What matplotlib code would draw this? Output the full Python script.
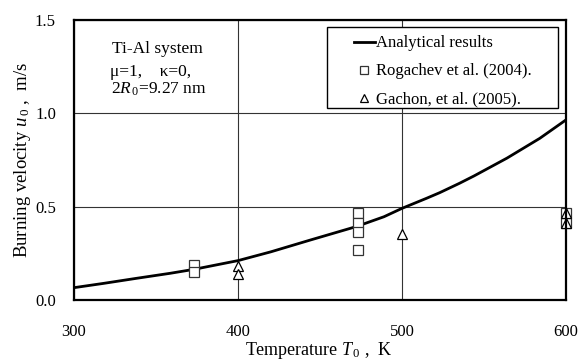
import matplotlib
matplotlib.use('Agg')
import matplotlib.pyplot as plt
from matplotlib.patches import Rectangle

plt.rcParams['font.family'] = ['Liberation Serif', 'DejaVu Serif']
plt.rcParams['mathtext.fontset'] = 'custom'
plt.rcParams['mathtext.rm'] = 'Liberation Serif'
plt.rcParams['mathtext.it'] = 'Liberation Serif:italic'

# Analytical curve
curve_T = [297.6, 318, 338, 358.6, 373, 400, 420, 444, 472, 489, 500, 515, 523, 535, 544, 564, 584, 600.5, 603]
curve_u = [0.063, 0.089, 0.116, 0.143, 0.164, 0.211, 0.258, 0.321, 0.393, 0.446, 0.491, 0.545, 0.575, 0.625, 0.665, 0.760, 0.866, 0.968, 0.99]

# Rogachev et al. (2004)
rog_T = [373, 373, 473, 473, 473, 473, 600, 600]
rog_u = [0.185, 0.150, 0.466, 0.415, 0.364, 0.268, 0.466, 0.414]

# Gachon et al. (2005)
gac_T = [400, 400, 500, 600, 600]
gac_u = [0.180, 0.140, 0.353, 0.466, 0.414]

fig = plt.figure(figsize=(5.79, 3.61), dpi=100)
ax = fig.add_axes([74 / 579, 1 - 300 / 361, 492 / 579, 280 / 361])

ax.plot(curve_T, curve_u, color='black', linewidth=2, label='Analytical results')
ax.plot(rog_T, rog_u, linestyle='none', marker='s', markersize=7.5,
        markerfacecolor='white', markeredgecolor='#333333', markeredgewidth=0.9,
        clip_on=False, label='Rogachev et al. (2004).')
ax.plot(gac_T, gac_u, linestyle='none', marker='^', markersize=7,
        markerfacecolor='white', markeredgecolor='black', markeredgewidth=0.9,
        clip_on=False, label='Gachon, et al. (2005).')

ax.set_xlim(300, 600)
ax.set_ylim(0, 1.5)
ax.set_xticks([300, 400, 500, 600])
ax.set_yticks([0.0, 0.5, 1.0, 1.5])
ax.set_yticklabels(['0.0', '0.5', '1.0', '1.5'])
ax.tick_params(length=0, labelsize=12)
ax.tick_params(axis='x', pad=17)
ax.tick_params(axis='y', pad=13)
ax.grid(color='#333333', linewidth=0.8)
ax.set_axisbelow(True)
for s in ax.spines.values():
    s.set_linewidth(1.6)

ax.set_xlabel(r'Temperature $\mathit{T}_{\,0}$ ,  K', fontsize=13)
ax.xaxis.set_label_coords(0.497, -0.143)
ax.set_ylabel(r'Burning velocity $\mathit{u}_{\,0}$ ,  m/s', fontsize=13.5)
ax.yaxis.set_label_coords(-0.083, 0.5)

ax.text(0.1687, 0.898, 'Ti-Al system', transform=ax.transAxes, ha='center', va='center', fontsize=12.5)
ax.text(0.156, 0.814, 'μ=1,    κ=0,', transform=ax.transAxes, ha='center', va='center', fontsize=12.5)
ax.text(0.173, 0.753, r'2$\mathit{R}_{\,0}$=9.27 nm', transform=ax.transAxes, ha='center', va='center', fontsize=12.5)

# legend frame drawn separately, it is wider than its contents
ax.add_patch(Rectangle((0.5136, 0.6846), 0.4707, 0.289, transform=ax.transAxes,
                       facecolor='white', edgecolor='black', linewidth=1.0, zorder=4))
leg = ax.legend(loc='upper left', bbox_to_anchor=(0.569, 0.945), fontsize=12,
                frameon=False, handlelength=1.25, handletextpad=0.1, borderpad=0,
                labelspacing=0.72, markerscale=0.85, borderaxespad=0)
leg.set_zorder(5)

fig.savefig('out.png', dpi=100)
